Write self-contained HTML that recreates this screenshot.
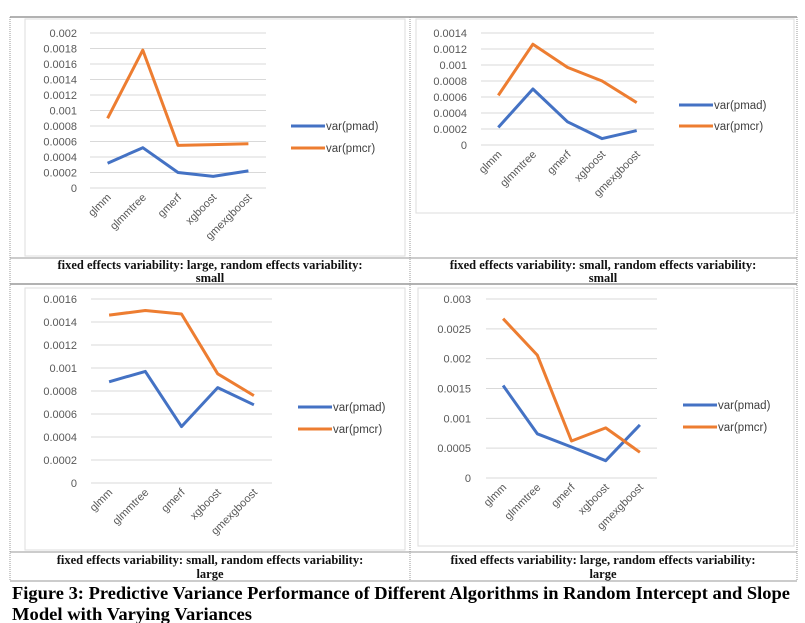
<!DOCTYPE html>
<html><head><meta charset="utf-8">
<style>
html,body{margin:0;padding:0;background:#fff;}
body{width:805px;height:623px;overflow:hidden;position:relative;font-family:"Liberation Sans",sans-serif;}
svg{position:absolute;left:0;top:0;}
.cap{font-family:"Liberation Serif",serif;font-weight:bold;font-size:12.5px;fill:#111;}
.fig{font-family:"Liberation Serif",serif;font-weight:bold;font-size:18px;fill:#000;}
.tick{font-size:11px;fill:#595959;}
.leg{font-size:11.5px;fill:#404040;}
</style></head>
<body>
<svg id="chart" width="805" height="623">
  <g stroke="#999" fill="none">
    <line x1="10" y1="17" x2="797" y2="17" stroke-width="1.5"/>
    <line x1="10" y1="258" x2="797" y2="258"/>
    <line x1="10" y1="284" x2="797" y2="284" stroke-width="1.5"/>
    <line x1="10" y1="552" x2="797" y2="552"/>
    <line x1="10" y1="581" x2="797" y2="581"/>
    <line x1="10" y1="17" x2="10" y2="581" stroke-dasharray="1,1"/>
    <line x1="410" y1="17" x2="410" y2="581" stroke-dasharray="1,1"/>
    <line x1="797" y1="17" x2="797" y2="581" stroke-dasharray="1,1"/>
    <rect x="25" y="19" width="380" height="237" stroke="#ddd"/>
    <rect x="416" y="19" width="378" height="194" stroke="#ddd"/>
    <rect x="25" y="288" width="380" height="262" stroke="#ddd"/>
    <rect x="418" y="288" width="376" height="258" stroke="#ddd"/>
  </g>
  <g>
    <text class="cap" x="210" y="269" text-anchor="middle">fixed effects variability: large, random effects variability:</text>
    <text class="cap" x="210" y="282" text-anchor="middle">small</text>
    <text class="cap" x="603" y="269" text-anchor="middle">fixed effects variability: small, random effects variability:</text>
    <text class="cap" x="603" y="282" text-anchor="middle">small</text>
    <text class="cap" x="210" y="564" text-anchor="middle">fixed effects variability: small, random effects variability:</text>
    <text class="cap" x="210" y="578" text-anchor="middle">large</text>
    <text class="cap" x="603" y="564" text-anchor="middle">fixed effects variability: large, random effects variability:</text>
    <text class="cap" x="603" y="578" text-anchor="middle">large</text>
  </g>
  <text class="fig" x="12" y="599" textLength="778" lengthAdjust="spacingAndGlyphs">Figure 3: Predictive Variance Performance of Different Algorithms in Random Intercept and Slope</text>
  <text class="fig" x="12" y="620" textLength="240" lengthAdjust="spacingAndGlyphs">Model with Varying Variances</text>
</svg>
<script>
const categories = ["glmm","glmmtree","gmerf","xgboost","gmexgboost"];
const seriesNames = ["var(pmad)","var(pmcr)"];
const p1Pmad = [0.00032,0.00052,0.00020,0.00015,0.00022];
const p1Pmcr = [0.00090,0.00178,0.00055,0.00056,0.00057];
const p1Ticks = ["0","0.0002","0.0004","0.0006","0.0008","0.001","0.0012","0.0014","0.0016","0.0018","0.002"];
const p2Pmad = [0.00022,0.00070,0.00029,0.00008,0.00018];
const p2Pmcr = [0.00062,0.00126,0.00097,0.00080,0.00053];
const p2Ticks = ["0","0.0002","0.0004","0.0006","0.0008","0.001","0.0012","0.0014"];
const p3Pmad = [0.00088,0.00097,0.00049,0.00083,0.00068];
const p3Pmcr = [0.00146,0.00150,0.00147,0.00095,0.00076];
const p3Ticks = ["0","0.0002","0.0004","0.0006","0.0008","0.001","0.0012","0.0014","0.0016"];
const p4Pmad = [0.00155,0.00074,0.00052,0.00029,0.00089];
const p4Pmcr = [0.00267,0.00206,0.00062,0.00084,0.00043];
const p4Ticks = ["0","0.0005","0.001","0.0015","0.002","0.0025","0.003"];

const NS = "http://www.w3.org/2000/svg";
const svg = document.getElementById("chart");
const colors = ["#4472C4","#ED7D31"];

function mk(tag, attrs, parent){
  const e = document.createElementNS(NS, tag);
  for (const k in attrs) e.setAttribute(k, attrs[k]);
  parent.appendChild(e);
  return e;
}

function panel(name, L, series, ticks){
  const g = mk("g", {}, svg);
  
  
  const tickVals = ticks.map(Number);
  const ymax = tickVals[tickVals.length-1];
  const y = v => L.y0 - (v / ymax) * (L.y0 - L.yTop);
  const step = (L.gx1 - L.gx0) / categories.length;
  const x = i => L.gx0 + step * (i + 0.5);
  ticks.forEach((t, i) => {
    const yy = y(tickVals[i]);
    const gl = mk("line", {x1:L.gx0, x2:L.gx1, y1:yy, y2:yy, stroke:"#d9d9d9", "stroke-width":1}, g);
    
    
    const tx = mk("text", {x:L.labelX, y:yy+4, "text-anchor":"end", class:"tick"}, g);
    
    
    tx.textContent = t;
  });
  categories.forEach((c, i) => {
    const xx = x(i) + 4, yy = L.y0 + 10;
    const tx = mk("text", {x:xx, y:yy, "text-anchor":"end", class:"tick", transform:`rotate(-45 ${xx} ${yy})`}, g);
    
    
    tx.textContent = c;
  });
  series.forEach((vals, s) => {
    const pts = vals.map((v, i) => x(i).toFixed(1) + "," + y(v).toFixed(1)).join(" ");
    const pl = mk("polyline", {points:pts, fill:"none", stroke:colors[s], "stroke-width":3, "stroke-linejoin":"round"}, g);
    
    
    const ly = L.legY + s * L.legGap;
    const ll = mk("line", {x1:L.legX, x2:L.legX+34, y1:ly, y2:ly, stroke:colors[s], "stroke-width":3}, g);
    
    
    const lt = mk("text", {x:L.legX+35, y:ly+4, class:"leg"}, g);
    
    
    lt.textContent = seriesNames[s];
  });
}

panel("chart-top-left", {gx0:90, gx1:266, yTop:33, y0:188, labelX:77, legX:291, legY:126, legGap:22}, [p1Pmad,p1Pmcr], p1Ticks);
panel("chart-top-right", {gx0:481, gx1:654, yTop:33, y0:145, labelX:467, legX:679, legY:105, legGap:21}, [p2Pmad,p2Pmcr], p2Ticks);
panel("chart-bottom-left", {gx0:91, gx1:272, yTop:299, y0:483, labelX:77, legX:298, legY:407, legGap:22}, [p3Pmad,p3Pmcr], p3Ticks);
panel("chart-bottom-right", {gx0:486, gx1:657, yTop:299, y0:478, labelX:471, legX:683, legY:405, legGap:22}, [p4Pmad,p4Pmcr], p4Ticks);
</script>
</body></html>
